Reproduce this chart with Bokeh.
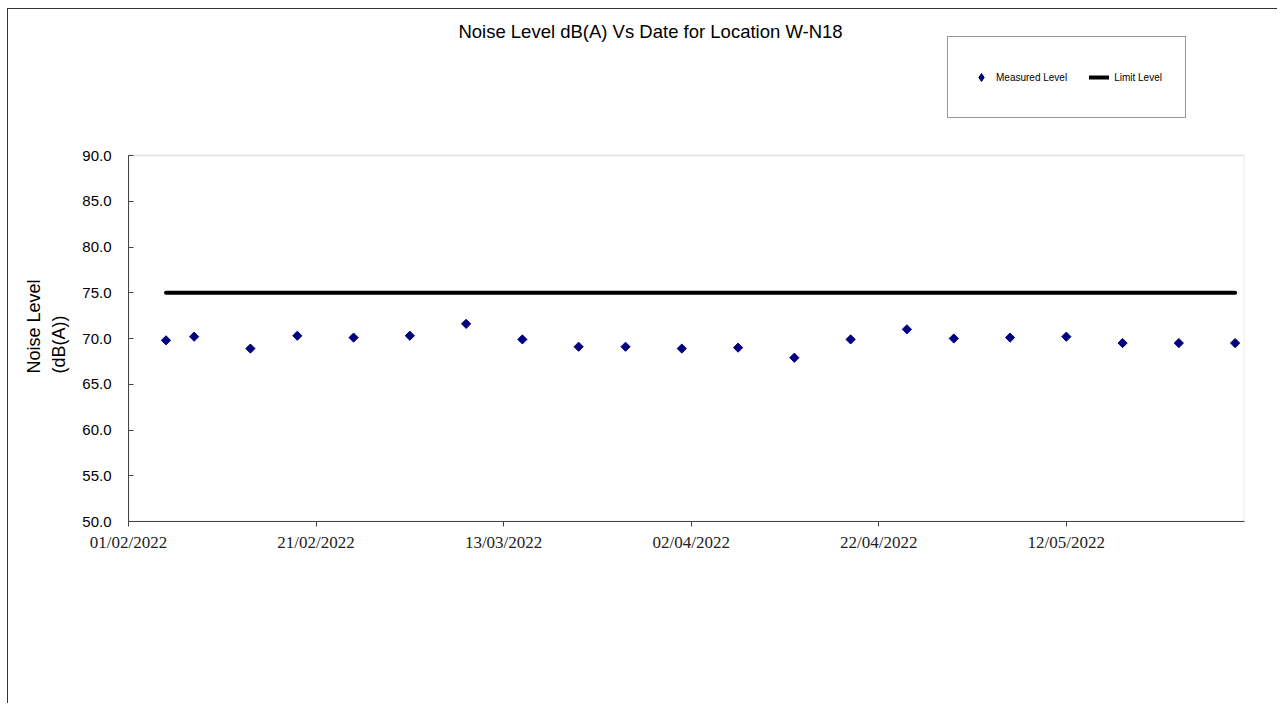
import pandas as pd
from bokeh.plotting import figure
from bokeh.models import (Range1d, FixedTicker, DatetimeTickFormatter, PrintfTickFormatter,
                          Legend, LegendItem, Label, Title, BoxAnnotation, ColumnDataSource,
                          CDSView, IndexFilter)
from bokeh.embed import file_html
from bokeh.resources import INLINE
from math import pi

# ---- data ----
dates = ["05/02/2022", "08/02/2022", "14/02/2022", "19/02/2022", "25/02/2022",
         "03/03/2022", "09/03/2022", "15/03/2022", "21/03/2022", "26/03/2022",
         "01/04/2022", "07/04/2022", "13/04/2022", "19/04/2022", "25/04/2022",
         "30/04/2022", "06/05/2022", "12/05/2022", "18/05/2022", "24/05/2022",
         "30/05/2022"]
measured_level = [69.8, 70.2, 68.9, 70.3, 70.1,
                  70.3, 71.6, 69.9, 69.1, 69.1,
                  68.9, 69.0, 67.9, 69.9, 71.0,
                  70.0, 70.1, 70.2, 69.5, 69.5,
                  69.5]
limit_level = [75.0, 75.0, 75.0, 75.0, 75.0,
               75.0, 75.0, 75.0, 75.0, 75.0,
               75.0, 75.0, 75.0, 75.0, 75.0,
               75.0, 75.0, 75.0, 75.0, 75.0,
               75.0]
x_tick_labels = ["01/02/2022", "21/02/2022", "13/03/2022",
                 "02/04/2022", "22/04/2022", "12/05/2022"]
y_ticks = [50, 55, 60, 65, 70, 75, 80, 85, 90]
y_min, y_max = 50, 90
x_start, x_end = "01/02/2022", "31/05/2022"
title_text = "Noise Level dB(A) Vs Date for Location W-N18"
y_title_text = "Noise Level\n(dB(A))"

FMT = "%d/%m/%Y"
src = ColumnDataSource(dict(
    date=pd.to_datetime(dates, format=FMT),
    measured=measured_level,
    limit=limit_level,
))

x0_ms = pd.to_datetime(x_start, format=FMT).value // 10**6
x1_ms = pd.to_datetime(x_end, format=FMT).value // 10**6

# layout: frame is extended upward so that title and legend live inside it;
# the visible plot area (50..90) is outlined by a box annotation.
FRAME_TOP_PAD = 138  # pixels of frame above the 90.0 line
PLOT_H = 366         # pixels between 50.0 and 90.0
y_top = y_max + (y_max - y_min) * FRAME_TOP_PAD / PLOT_H

p = figure(width=1270, height=695, output_backend="svg", toolbar_location=None,
           x_axis_type="datetime",
           x_range=Range1d(x0_ms, x1_ms),
           y_range=Range1d(y_min, y_top),
           min_border_left=120, min_border_top=8, min_border_right=34, min_border_bottom=183)
p.margin = (8, 0, 0, 7)
p.styles = {"border-left": "1px solid #333333", "border-top": "1px solid #333333"}
p.background_fill_color = "white"
p.border_fill_color = "white"
p.grid.visible = False
p.outline_line_color = None

box = BoxAnnotation(left=x0_ms, right=x1_ms, bottom=y_min, top=y_max,
                    fill_alpha=0, line_color="#999999", line_width=1.5, level="underlay")
p.add_layout(box)

ln = p.line("date", "limit", source=src, line_color="black", line_width=4, line_cap="round")
# legend key: a diamond that draws nothing on the plot itself (size 0)
key = p.scatter("date", "measured", source=src, view=CDSView(filter=IndexFilter([0])),
                marker="diamond", size=0, fill_color="#000080", line_color="#000080")
sc = p.scatter("date", "measured", source=src, marker="square", angle=pi / 4, size=6.5,
               fill_color="#000080", line_color="#000080")

tick_ms = [pd.to_datetime(t, format=FMT).value // 10**6 for t in x_tick_labels]
p.xaxis.ticker = FixedTicker(ticks=tick_ms)
p.xaxis.formatter = DatetimeTickFormatter(days=FMT, months=FMT, years=FMT, hours=FMT,
                                          hourmin=FMT, minutes=FMT, seconds=FMT,
                                          minsec=FMT, milliseconds=FMT, microseconds=FMT)
p.xaxis.major_label_text_font = "Liberation Serif"
p.xaxis.major_label_text_font_size = "17px"
p.xaxis.major_label_text_color = "#222222"
p.xaxis.major_tick_out = 5
p.xaxis.major_tick_in = 0
p.xaxis.minor_tick_line_color = None
p.xaxis.major_label_standoff = 6
p.xaxis.axis_line_color = "#444444"
p.xaxis.major_tick_line_color = "#444444"

p.yaxis.ticker = FixedTicker(ticks=y_ticks)
p.yaxis.bounds = (y_min, y_max)
p.yaxis.formatter = PrintfTickFormatter(format="%.1f")
p.yaxis.major_label_text_font = "Liberation Sans"
p.yaxis.major_label_text_font_size = "15px"
p.yaxis.major_label_text_color = "#000000"
p.yaxis.major_tick_in = 5
p.yaxis.major_tick_out = 0
p.yaxis.minor_tick_line_color = None
p.yaxis.major_label_standoff = 17
p.yaxis.axis_line_color = "#444444"
p.yaxis.major_tick_line_color = "#444444"

# y axis title (two lines) as a side title on the left
ytitle = Title(text=y_title_text, align="left", offset=148, standoff=20,
               text_font="Liberation Sans", text_font_size="18px",
               text_font_style="normal", text_color="#000000", text_line_height=1.28)
p.add_layout(ytitle, "left")

title = Label(x=522, y=490, x_units="screen", y_units="screen", text=title_text,
              text_align="center", text_baseline="middle",
              text_font="Liberation Sans", text_font_size="18.5px", text_color="#000000")
p.add_layout(title)

legend = Legend(items=[LegendItem(label="Measured Level", renderers=[key]),
                       LegendItem(label="Limit Level", renderers=[ln])],
                orientation="horizontal", location=(819, 403),
                padding=23, spacing=22, glyph_width=20, glyph_height=34,
                label_height=34, label_standoff=5, label_text_font="Liberation Sans",
                label_text_font_size="10px", label_text_color="#000000",
                border_line_color="#333333", border_line_width=1,
                background_fill_alpha=1.0, margin=0)
p.add_layout(legend)

open("out.html", "w").write(file_html(p, INLINE))
